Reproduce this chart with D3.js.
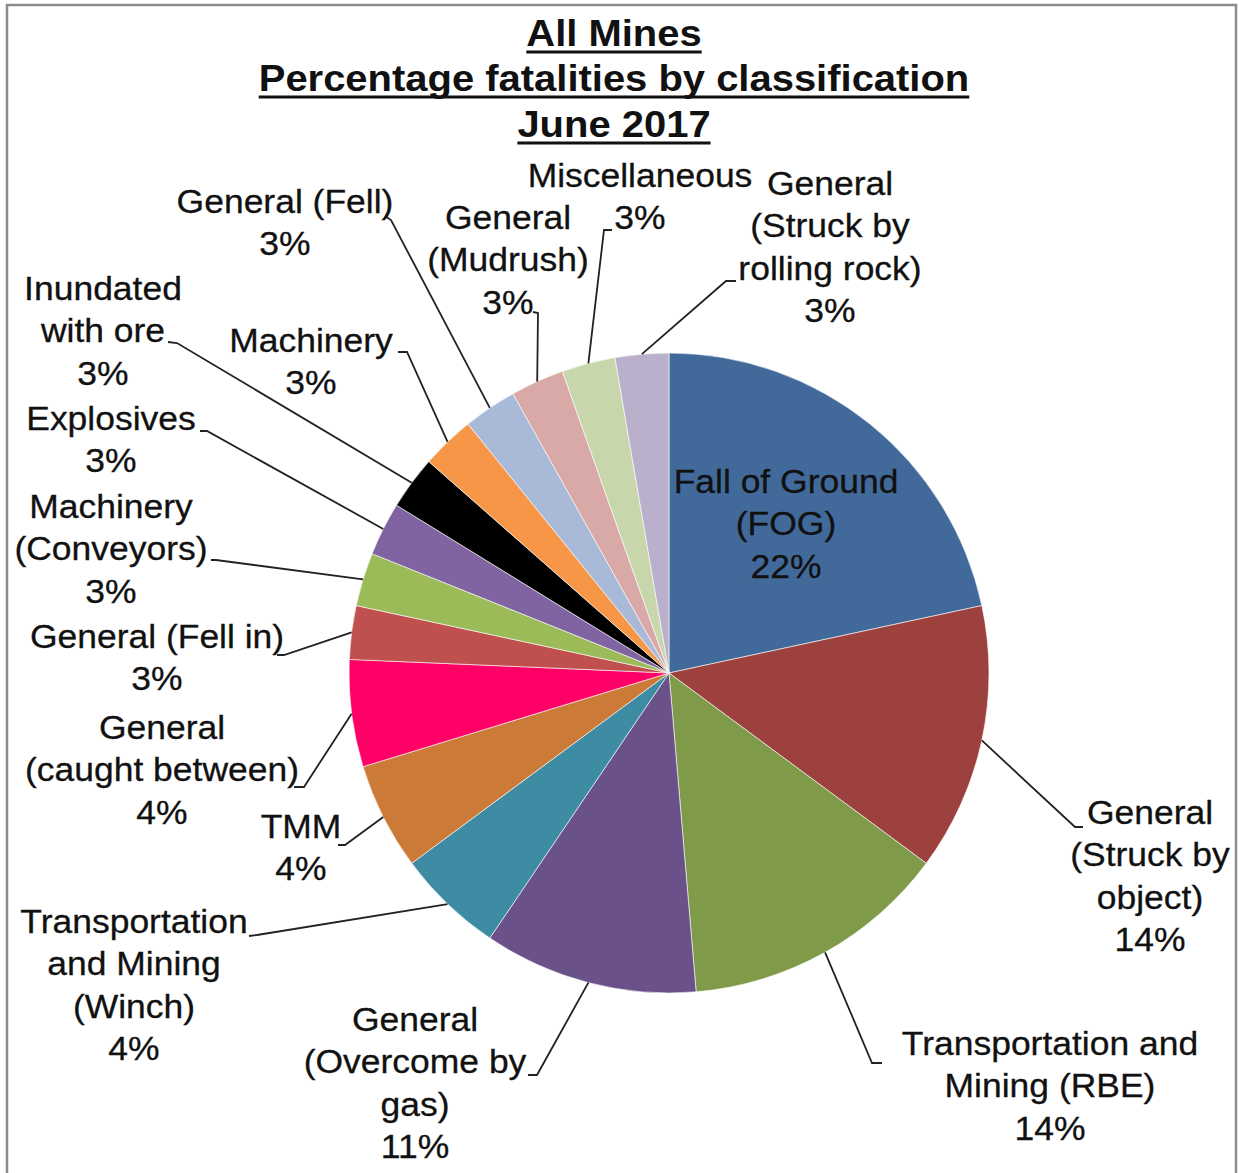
<!DOCTYPE html>
<meta charset="utf-8">
<script src="https://d3js.org/d3.v7.min.js"></script>
<style>
  body { margin: 0; background: #fff; }
  text { font-family: "Liberation Sans", Arial, sans-serif; fill: #111; }
</style>
<body>
<div id="chart"></div>
<script>
  // categories, clockwise from 12 o'clock ("|" = line break in the label)
  var categories = [
    "Fall of Ground|(FOG)",
    "General|(Struck by|object)",
    "Transportation and|Mining (RBE)",
    "General|(Overcome by|gas)",
    "Transportation|and Mining|(Winch)",
    "TMM",
    "General|(caught between)",
    "General (Fell in)",
    "Machinery|(Conveyors)",
    "Explosives",
    "Inundated|with ore",
    "Machinery",
    "General (Fell)",
    "General|(Mudrush)",
    "Miscellaneous",
    "General|(Struck by|rolling rock)"
  ];
  // slice sizes
  var fatalities = [8, 5, 5, 4, 2, 2, 2, 1, 1, 1, 1, 1, 1, 1, 1, 1];
  // percentages as printed on the chart
  var pctLabels = ["22%", "14%", "14%", "11%", "4%", "4%", "4%", "3%", "3%", "3%", "3%", "3%", "3%", "3%", "3%", "3%"];
  var sliceColors = ["#416a9b", "#9d413e", "#7f9a48", "#6a5189", "#3d8ca4", "#cc7a37", "#ff0066", "#c0504d",
    "#9bbb59", "#8064a2", "#000000", "#f79646", "#a9b9d8", "#d9a9a8", "#c8d7ab", "#bab0cb"];
  var titleLines = ["All Mines", "Percentage fatalities by classification", "June 2017"];

  // label layout: centre x, centre y of first line, and leader line elbow / end
  var labelLayout = [
    { x: 786, y: 481 },
    { x: 1150, y: 812, elbow: [1075, 827], end: [1083, 827] },
    { x: 1050, y: 1043, elbow: [872, 1063], end: [882, 1063] },
    { x: 415, y: 1019, elbow: [537, 1075], end: [528, 1075] },
    { x: 134, y: 921, elbow: [257, 935], end: [249, 936] },
    { x: 301, y: 826, elbow: [345, 845], end: [338, 845] },
    { x: 162, y: 727, elbow: [304, 787], end: [294, 787] },
    { x: 157, y: 636, elbow: [284, 655], end: [277, 655] },
    { x: 111, y: 506, elbow: [216, 560], end: [211, 560] },
    { x: 111, y: 418, elbow: [207, 431], end: [200, 431] },
    { x: 103, y: 288, elbow: [177, 343], end: [168, 342] },
    { x: 311, y: 340, elbow: [407, 352], end: [398, 352] },
    { x: 285, y: 201, elbow: [391, 220], end: [385, 216] },
    { x: 508, y: 217, elbow: [538, 313], end: [533, 312] },
    { x: 640, y: 175, elbow: [604, 230], end: [612, 230] },
    { x: 830, y: 183, elbow: [726, 281], end: [736, 281] }
  ];

  var width = 1239, height = 1173;
  var cx = 669, cy = 673, radius = 320;
  var lineH = 42.5, fontSize = 33, stretch = 1.075;

  var svg = d3.select("#chart").append("svg")
    .attr("width", width)
    .attr("height", height);

  // outer frame
  svg.append("rect")
    .attr("x", 7).attr("y", 5)
    .attr("width", 1229).attr("height", 1220)
    .attr("fill", "none")
    .attr("stroke", "#8c8c8c")
    .attr("stroke-width", 2.5);

  var data = categories.map(function (c, i) {
    return { name: c, value: fatalities[i], pct: pctLabels[i], color: sliceColors[i], layout: labelLayout[i] };
  });

  var pie = d3.pie().sort(null).value(function (d) { return d.value; });
  var arc = d3.arc().innerRadius(0).outerRadius(radius);
  var edge = d3.arc().innerRadius(radius).outerRadius(radius);

  var g = svg.append("g").attr("transform", "translate(" + cx + "," + cy + ")");

  var arcs = pie(data);

  g.selectAll("path.slice")
    .data(arcs)
    .enter()
    .append("path")
    .attr("class", "slice")
    .attr("d", arc)
    .attr("fill", function (d) { return d.data.color; })
    .attr("stroke", "#ffffff")
    .attr("stroke-width", 0.6);

  // leader lines
  svg.selectAll("polyline.leader")
    .data(arcs.filter(function (d) { return d.data.layout.elbow; }))
    .enter()
    .append("polyline")
    .attr("class", "leader")
    .attr("points", function (d) {
      var c = edge.centroid(d);
      var L = d.data.layout;
      return [[cx + c[0], cy + c[1]], L.elbow, L.end].map(function (p) { return p.join(","); }).join(" ");
    })
    .attr("fill", "none")
    .attr("stroke", "#222")
    .attr("stroke-width", 1.8);

  // labels
  var labels = svg.selectAll("g.label")
    .data(data)
    .enter()
    .append("g")
    .attr("class", "label")
    .attr("transform", function (d) {
      return "translate(" + d.layout.x + "," + (d.layout.y + 12) + ") scale(" + stretch + ",1)";
    });

  labels.append("text")
    .attr("text-anchor", "middle")
    .style("font-size", fontSize + "px")
    .style("stroke", "#111")
    .style("stroke-width", 0.3)
    .each(function (d) {
      var lines = d.name.split("|").concat([d.pct]);
      var t = d3.select(this);
      lines.forEach(function (s, k) {
        t.append("tspan").attr("x", 0).attr("y", k * lineH).text(s);
      });
    });

  // title, bold and underlined
  var titleBase = [46, 91, 137];
  titleLines.forEach(function (s, i) {
    var tg = svg.append("g")
      .attr("transform", "translate(614," + titleBase[i] + ") scale(1.08,1)");
    var t = tg.append("text")
      .attr("text-anchor", "middle")
      .style("font-size", "37px")
      .style("font-weight", "bold")
      .text(s);
    var w = t.node().getComputedTextLength();
    tg.append("line")
      .attr("x1", -w / 2).attr("x2", w / 2)
      .attr("y1", 6).attr("y2", 6)
      .attr("stroke", "#111")
      .attr("stroke-width", 3);
  });
</script>
</body>
